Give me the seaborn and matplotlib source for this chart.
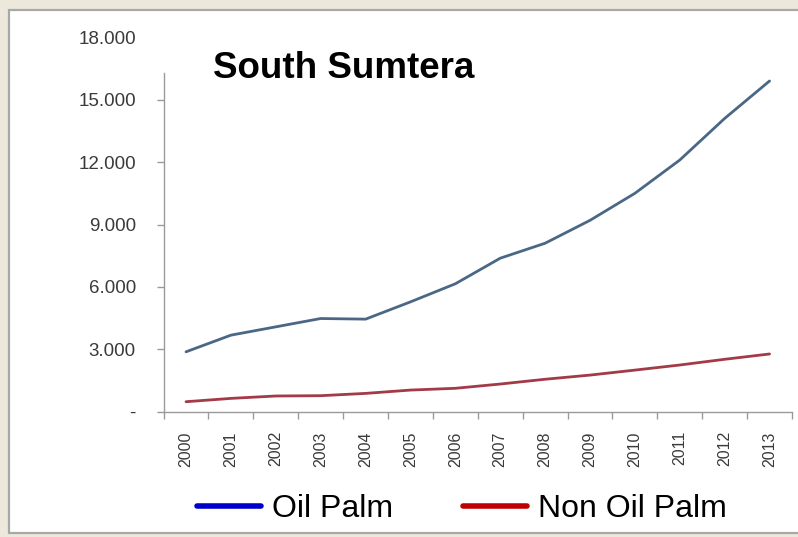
import matplotlib
matplotlib.use("Agg")
import matplotlib.pyplot as plt
import seaborn as sns
import pandas as pd
from matplotlib.lines import Line2D
from matplotlib.patches import Rectangle
from matplotlib.ticker import FixedLocator

years = list(range(2000, 2014))
oil_palm = [2880, 3680, 4080, 4480, 4450, 5280, 6150, 7380, 8100, 9200,
            10500, 12100, 14100, 15900]
non_oil_palm = [480, 640, 755, 770, 880, 1040, 1125, 1330, 1560, 1760,
                2000, 2245, 2520, 2775]
series_names = ["Oil Palm", "Non Oil Palm"]
y_ticks = [0, 3000, 6000, 9000, 12000, 15000, 18000]
y_tick_labels = ["-", "3.000", "6.000", "9.000", "12.000", "15.000", "18.000"]
title = "South Sumtera"

df = pd.DataFrame({
    "year": years * 2,
    "value": oil_palm + non_oil_palm,
    "series": [series_names[0]] * len(years) + [series_names[1]] * len(years),
})

sns.set_style("white")
plt.rcParams["font.family"] = ["Liberation Sans", "DejaVu Sans"]
plt.rcParams["text.color"] = "black"

fig = plt.figure(figsize=(7.98, 5.37), dpi=100)
fig.patch.set_facecolor("#ede8dc")
fig.patches.append(Rectangle((9 / 798, 4 / 537), 1.0, (527 - 4) / 537,
                             transform=fig.transFigure, facecolor="white",
                             edgecolor="#a8a8a8", linewidth=1.6, zorder=0))

ax = fig.add_axes([163.6 / 798, 1 - 411.7 / 537, (792 - 163.6) / 798, (411.7 - 37.3) / 537])
ax.set_zorder(2)
ax.set_facecolor("none")

sns.lineplot(data=df, x="year", y="value", hue="series", ax=ax,
             palette={series_names[0]: "#4a6785", series_names[1]: "#a33a48"},
             linewidth=2.0, legend=False)

ax.set_xlim(years[0] - 0.5, years[-1] + 0.5)
ax.set_ylim(y_ticks[0], y_ticks[-1])
ax.set_xlabel("")
ax.set_ylabel("")

ax.set_xticks(years)
ax.set_xticklabels([str(y) for y in years], rotation=90, fontsize=11.5, color="#3a3a3a")
ax.tick_params(axis="x", which="major", length=0, pad=14)
ax.xaxis.set_minor_locator(FixedLocator([y - 0.5 for y in years] + [years[-1] + 0.5]))
ax.tick_params(axis="x", which="minor", length=5, width=1, color="#9a9a9a", direction="out", bottom=True)

ax.set_yticks(y_ticks)
ax.set_yticklabels(y_tick_labels, fontsize=13.5, color="#3a3a3a")
ax.tick_params(axis="y", which="major", length=5, width=1, color="#9a9a9a", direction="out", left=True, pad=15)
ax.yaxis.get_major_ticks()[-1].tick1line.set_visible(False)

for s in ["top", "right"]:
    ax.spines[s].set_visible(False)
ax.spines["left"].set_color("#9a9a9a")
ax.spines["bottom"].set_color("#9a9a9a")
ax.spines["left"].set_linewidth(1)
ax.spines["bottom"].set_linewidth(1)
ax.spines["left"].set_bounds(0, 16300)

fig.text(213 / 798, 1 - 68 / 537, title, ha="left", va="center",
         fontsize=26.5, fontweight="bold", color="black", zorder=3)

handles = [Line2D([0], [0], color="#0000cc", lw=4, solid_capstyle="round"),
           Line2D([0], [0], color="#c00000", lw=4, solid_capstyle="round")]
leg = fig.legend(handles, series_names, loc="center", bbox_to_anchor=(462 / 798, 1 - 509 / 537),
                 ncol=2, frameon=False, fontsize=23, handlelength=2.0, handletextpad=0.35,
                 columnspacing=2.2, borderpad=0, borderaxespad=0)
for t in leg.get_texts():
    t.set_color("black")
leg.set_zorder(3)

fig.savefig("out.png", dpi=100, facecolor=fig.get_facecolor())
